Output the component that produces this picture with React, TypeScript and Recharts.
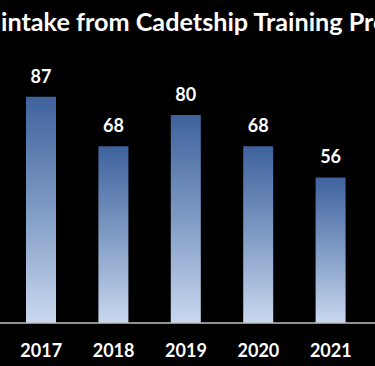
import React from 'react';
import { BarChart, Bar, XAxis, YAxis, LabelList } from 'recharts';

const years = ['2017', '2018', '2019', '2020', '2021'];
const intake = [87, 68, 80, 68, 56];

const chartData = years.map((year, i) => ({ year, intake: intake[i] }));

const font = 'Lato, "Open Sans", sans-serif';

const App: React.FC = () => {
  return (
    <div
      style={{
        position: 'fixed',
        left: 0,
        top: 0,
        width: 375,
        height: 366,
        background: '#000',
        overflow: 'hidden',
        fontFamily: font,
      }}
    >
      {/* title is cropped on the right in the original screenshot */}
      <div
        style={{
          position: 'absolute',
          left: 1,
          top: 6,
          whiteSpace: 'nowrap',
          color: '#fff',
          fontWeight: 700,
          fontSize: 25.2,
          lineHeight: '30px',
        }}
      >
        intake from Cadetship Training Programme
      </div>
      <BarChart
        width={375}
        height={366}
        data={chartData}
        margin={{ top: 63, right: 0, bottom: 0, left: 0 }}
      >
        <defs>
          <linearGradient id="barFill" x1="0" y1="0" x2="0" y2="1">
            <stop offset="0%" stopColor="#3f629d" />
            <stop offset="50%" stopColor="#7f9bc4" />
            <stop offset="100%" stopColor="#c9d8ef" />
          </linearGradient>
        </defs>
        <XAxis
          dataKey="year"
          height={43}
          padding={{ left: 5, right: 8 }}
          axisLine={{ stroke: '#c0c0c0', strokeWidth: 1.5 }}
          tickLine={false}
          tickSize={0}
          tickMargin={21}
          tick={{ fill: '#fff', fontSize: 18, fontWeight: 700, fontFamily: font }}
        />
        <YAxis hide domain={[0, 100]} />
        <Bar dataKey="intake" fill="url(#barFill)" barSize={30} isAnimationActive={false}>
          <LabelList
            dataKey="intake"
            position="top"
            offset={14}
            fill="#fff"
            fontSize={18}
            fontWeight={700}
            fontFamily={font}
          />
        </Bar>
      </BarChart>
    </div>
  );
};

export default App;
